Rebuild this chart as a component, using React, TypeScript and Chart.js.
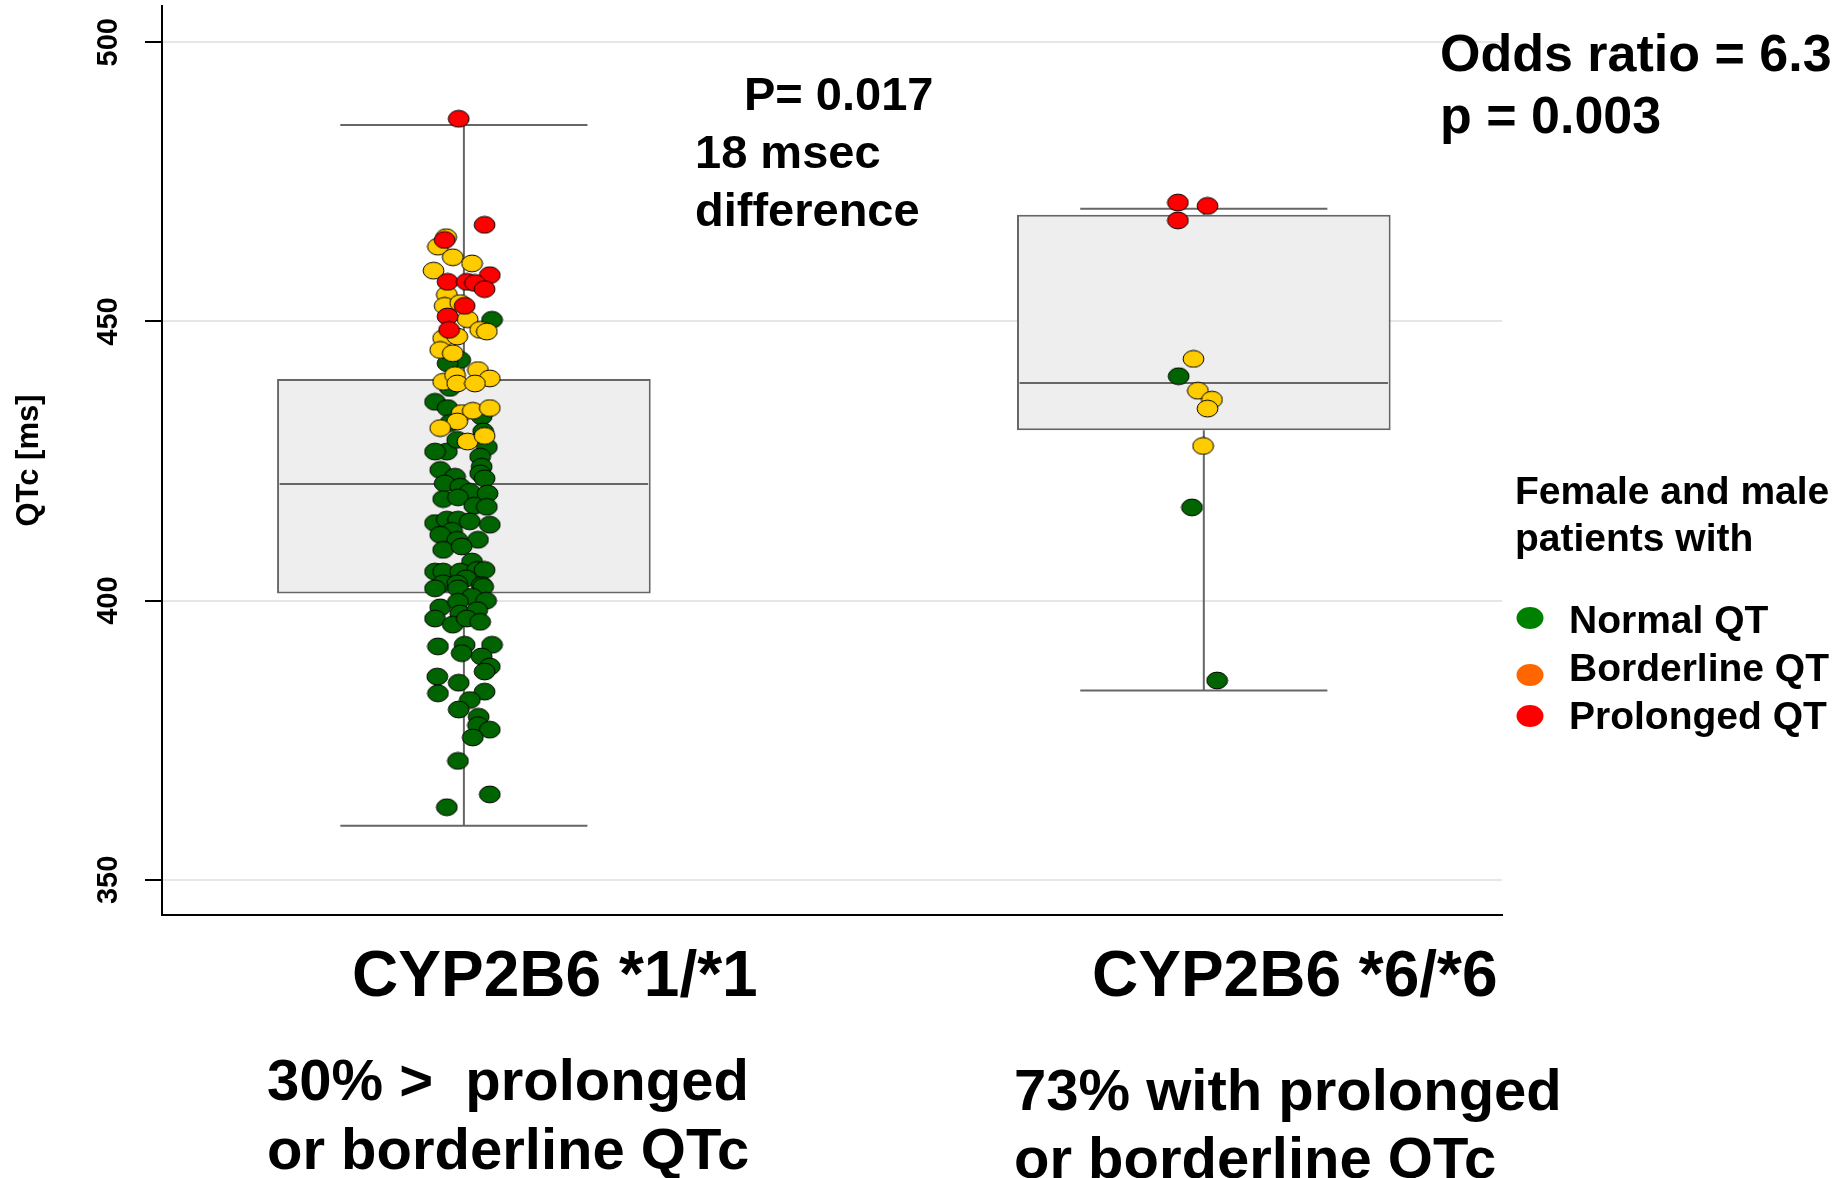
import React, { useEffect, useRef } from 'react';
import { Chart, registerables } from 'chart.js';

Chart.register(...registerables);

// ---------------- data ----------------
const CATEGORIES = ['CYP2B6 *1/*1', 'CYP2B6 *6/*6'];
const Y_TICKS = [350, 400, 450, 500];

// box-plot statistics (QTc, ms)
const Q1 = [401.3, 430.5];
const MEDIAN = [420.9, 439.0];
const Q3 = [439.7, 469.1];
const WHISKER_LOW = [359.7, 383.9];
const WHISKER_HIGH = [485.2, 470.2];

// individual patients: [QTc ms, horizontal jitter in category units]
const G1_PROLONGED = [
  [486.3, -0.007], [467.3, 0.028], [464.6, -0.026], [458.3, 0.035], [457.1, -0.022],
  [457.1, 0.004], [456.9, 0.015], [455.8, 0.028], [452.8, 0.001], [450.9, -0.022],
  [448.5, -0.020],
];
const G1_BORDERLINE = [
  [465.1, -0.024], [463.4, -0.035], [461.5, -0.015], [460.4, 0.011], [459.1, -0.041],
  [454.8, -0.023], [452.8, -0.026], [453.3, -0.005], [450.4, 0.005], [448.5, 0.022],
  [448.2, 0.031], [447.0, -0.028], [447.3, -0.009], [444.9, -0.032], [444.3, -0.015],
  [441.3, 0.019], [439.8, 0.035], [439.2, -0.028], [440.4, -0.012], [438.9, -0.009],
  [438.9, 0.015], [433.6, -0.003], [434.0, 0.012], [434.5, 0.035], [432.1, -0.009],
  [430.9, -0.032], [428.5, 0.005], [429.5, 0.028],
];
const G1_NORMAL = [
  [450.3, 0.038], [443.1, -0.005], [442.5, -0.022], [438.1, -0.019],
  [435.6, -0.039], [434.5, -0.022], [433.0, 0.024], [431.8, -0.019], [430.3, 0.026],
  [426.7, -0.023], [426.7, -0.039], [428.8, -0.009], [427.5, 0.031], [425.8, 0.022],
  [424.0, 0.024], [422.8, 0.022], [421.9, 0.028], [423.4, -0.032], [422.2, -0.012],
  [421.0, -0.026], [420.4, -0.005], [419.5, 0.008], [419.2, 0.032], [418.2, -0.028],
  [418.5, -0.008], [417.0, 0.014], [416.8, 0.031], [413.9, -0.039], [414.5, -0.023],
  [414.5, -0.008], [414.2, 0.008], [413.6, 0.035], [412.5, -0.016], [411.8, -0.032],
  [410.9, -0.009], [410.9, 0.019], [409.1, -0.028], [409.7, -0.003], [407.0, 0.011],
  [405.2, -0.039], [405.2, -0.028], [405.2, -0.005], [405.5, 0.018], [405.5, 0.028],
  [404.0, 0.003], [403.1, -0.028], [403.1, -0.009], [402.8, 0.024], [402.2, -0.039],
  [402.2, -0.008], [402.5, 0.026], [400.7, 0.011], [400.0, 0.030], [398.8, -0.032],
  [399.8, -0.008], [396.8, -0.039], [397.7, -0.005], [398.3, 0.018], [395.7, -0.015],
  [396.8, 0.004], [396.2, 0.022], [391.8, -0.035], [392.1, 0.001], [390.6, -0.003],
  [392.1, 0.038], [390.0, 0.024], [388.2, 0.035], [387.3, 0.028], [386.4, -0.036],
  [385.3, -0.007], [383.4, -0.035], [383.7, 0.028], [382.2, 0.008], [380.5, -0.007],
  [379.2, 0.020], [377.7, 0.019], [376.9, 0.035], [375.5, 0.012], [371.3, -0.008],
  [365.3, 0.035], [363.0, -0.023],
];
const G2_PROLONGED = [[471.3, -0.035], [470.7, 0.005], [468.1, -0.035]];
const G2_BORDERLINE = [[443.3, -0.014], [437.6, -0.008], [436.0, 0.011], [434.4, 0.005], [427.7, -0.001]];
const G2_NORMAL = [[440.2, -0.034], [416.7, -0.016], [385.7, 0.018]];

// ---------------- styles ----------------
const FONT = "'Liberation Sans', Arial, Helvetica, sans-serif";
const BOX_HALF = 0.2525;
const MEDIAN_HALF = 0.249;
const CAP_HALF = 0.167;
const LINE_GRAY = '#666666';
const COL_NORMAL = '#006400';
const COL_BORDER = '#ffcc00';
const COL_PROLONG = '#ff0000';

function toPoints(group: number, arr: number[][]) {
  return arr.map(([v, j]) => ({ x: group + j, y: v }));
}

function makeEllipse(color: string) {
  const c = document.createElement('canvas');
  c.width = 23;
  c.height = 19;
  const g = c.getContext('2d')!;
  g.beginPath();
  g.ellipse(11.5, 9.5, 10.4, 8.4, 0, 0, Math.PI * 2);
  g.fillStyle = color;
  g.fill();
  g.lineWidth = 1;
  g.strokeStyle = '#000';
  g.stroke();
  return c;
}

const annotationPlugin = {
  id: 'annotations',
  afterDraw(chart: any) {
    const ctx = chart.ctx as CanvasRenderingContext2D;
    ctx.save();
    ctx.fillStyle = '#000';
    ctx.textAlign = 'left';
    ctx.textBaseline = 'alphabetic';
    const txt = (s: string, size: number, x: number, y: number) => {
      ctx.font = `bold ${size}px ${FONT}`;
      ctx.fillText(s, x, y);
    };
    txt('P= 0.017', 47, 744, 110);
    txt('18 msec', 47, 695, 168);
    txt('difference', 47, 695, 226);
    txt('Odds ratio = 6.3', 52, 1440, 71);
    txt('p = 0.003', 52, 1440, 133);

    txt('Female and male', 39, 1515, 504);
    txt('patients with', 39, 1515, 551);
    txt('Normal QT', 39, 1569, 633);
    txt('Borderline QT', 39, 1569, 681);
    txt('Prolonged QT', 39, 1569, 729);
    const dot = (color: string, x: number, y: number) => {
      ctx.beginPath();
      ctx.ellipse(x, y, 13.5, 11, 0, 0, Math.PI * 2);
      ctx.fillStyle = color;
      ctx.fill();
    };
    dot('#008000', 1530, 618);
    dot('#ff6600', 1530, 675);
    dot('#ff0000', 1530, 716);
    ctx.fillStyle = '#000';

    txt('30% >  prolonged', 58, 267, 1100);
    txt('or borderline QTc', 58, 267, 1169);
    txt('73% with prolonged', 58, 1014, 1110);
    txt('or borderline QTc', 58, 1014, 1178);
    ctx.restore();
  },
};

export default function App() {
  const ref = useRef<HTMLCanvasElement>(null);

  useEffect(() => {
    document.body.style.margin = '0';
    document.body.style.overflow = 'hidden';
    const canvas = ref.current!;

    const boxData = CATEGORIES.map((_, i) => ({ x: i, y: [Q1[i], Q3[i]] }));
    const whiskerData: any[] = [];
    const capData: any[] = [];
    const medianData: any[] = [];
    CATEGORIES.forEach((_, i) => {
      whiskerData.push({ x: i, y: Q3[i] }, { x: i, y: WHISKER_HIGH[i] }, { x: i, y: null });
      whiskerData.push({ x: i, y: Q1[i] }, { x: i, y: WHISKER_LOW[i] }, { x: i, y: null });
      capData.push({ x: i - CAP_HALF, y: WHISKER_HIGH[i] }, { x: i + CAP_HALF, y: WHISKER_HIGH[i] }, { x: i, y: null });
      capData.push({ x: i - CAP_HALF, y: WHISKER_LOW[i] }, { x: i + CAP_HALF, y: WHISKER_LOW[i] }, { x: i, y: null });
      medianData.push({ x: i - MEDIAN_HALF, y: MEDIAN[i] }, { x: i + MEDIAN_HALF, y: MEDIAN[i] }, { x: i, y: null });
    });

    const lineCommon = {
      type: 'line' as const,
      borderColor: LINE_GRAY,
      borderWidth: 2,
      pointRadius: 0,
      fill: false,
      spanGaps: false,
      order: 3,
    };

    const chart = new Chart(canvas, {
      type: 'scatter',
      data: {
        datasets: [
          {
            type: 'scatter',
            label: 'Prolonged QT',
            data: [...toPoints(0, G1_PROLONGED), ...toPoints(1, G2_PROLONGED)],
            pointStyle: makeEllipse(COL_PROLONG),
            pointRadius: 10,
            order: 0,
          },
          {
            type: 'scatter',
            label: 'Borderline QT',
            data: [...toPoints(0, G1_BORDERLINE), ...toPoints(1, G2_BORDERLINE)],
            pointStyle: makeEllipse(COL_BORDER),
            pointRadius: 10,
            order: 1,
          },
          {
            type: 'scatter',
            label: 'Normal QT',
            data: [...toPoints(0, G1_NORMAL), ...toPoints(1, G2_NORMAL)],
            pointStyle: makeEllipse(COL_NORMAL),
            pointRadius: 10,
            order: 2,
          },
          { ...lineCommon, label: 'whiskers', data: whiskerData },
          { ...lineCommon, label: 'caps', data: capData },
          { ...lineCommon, label: 'median', data: medianData },
          {
            type: 'bar',
            label: 'IQR',
            data: boxData as any,
            backgroundColor: '#eeeeee',
            borderColor: LINE_GRAY,
            borderWidth: 2,
            borderSkipped: false,
            categoryPercentage: 1,
            barPercentage: 2 * BOX_HALF,
            order: 4,
          },
        ] as any,
      },
      options: {
        responsive: false,
        animation: false,
        devicePixelRatio: 1,
        layout: { autoPadding: false, padding: { top: 6, right: 345, left: 0, bottom: 0 } },
        plugins: {
          legend: { display: false },
          tooltip: { enabled: false },
          title: { display: false },
        },
        scales: {
          x: {
            type: 'linear',
            offset: false,
            min: -0.408,
            max: 1.403,
            afterBuildTicks: (s: any) => {
              s.ticks = CATEGORIES.map((_, i) => ({ value: i }));
            },
            afterFit: (s: any) => {
              s.height = 263;
              s.paddingLeft = 0;
              s.paddingRight = 0;
            },
            grid: { display: false },
            border: { display: true, color: '#000', width: 2 },
            ticks: {
              callback: (v: any) => CATEGORIES[v] ?? '',
              font: { family: FONT, size: 64, weight: 'bold' },
              color: '#000',
              padding: 17,
              labelOffset: 91,
              autoSkip: false,
              minRotation: 0,
              maxRotation: 0,
            },
          },
          y: {
            type: 'linear',
            min: 343.7,
            max: 506.5,
            afterBuildTicks: (s: any) => {
              s.ticks = Y_TICKS.map((v) => ({ value: v }));
            },
            afterFit: (s: any) => {
              s.width = 162;
              s.paddingTop = 0;
              s.paddingBottom = 0;
            },
            grid: {
              color: '#e6e6e6',
              lineWidth: 2,
              drawTicks: true,
              tickLength: 17,
              tickColor: '#000',
              tickWidth: 2,
            },
            border: { display: true, color: '#000', width: 2 },
            ticks: {
              font: { family: FONT, size: 29, weight: 'bold' },
              color: '#000',
              minRotation: 90,
              maxRotation: 90,
              crossAlign: 'center',
              padding: 12,
              autoSkip: false,
            },
            title: {
              display: true,
              text: 'QTc [ms]',
              font: { family: FONT, size: 31, weight: 'bold' },
              color: '#000',
              padding: { top: 11, bottom: 0 },
            },
          },
        },
      } as any,
      plugins: [annotationPlugin],
    });

    return () => chart.destroy();
  }, []);

  return (
    <div style={{ width: 1847, height: 1178, position: 'relative', background: '#fff' }}>
      <canvas ref={ref} width={1847} height={1178} style={{ display: 'block', width: 1847, height: 1178 }} />
    </div>
  );
}
